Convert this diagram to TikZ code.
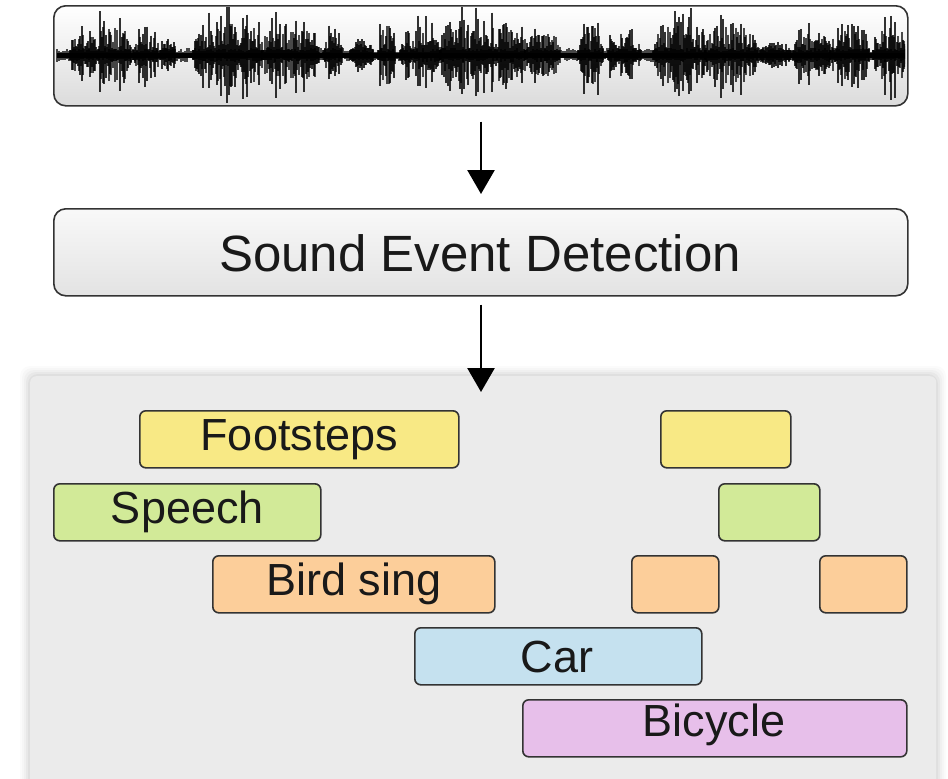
\documentclass[tikz,border=0pt]{standalone}
\usepackage{fontspec}
\setmainfont{Liberation Sans}
\usetikzlibrary{arrows.meta}
\definecolor{panelgray}{HTML}{EBEBEB}
\definecolor{boxgray}{HTML}{EFEFEF}
\definecolor{edgegray}{HTML}{333333}
\definecolor{cyellow}{HTML}{F8E985}
\definecolor{cgreen}{HTML}{D2EA98}
\definecolor{corange}{HTML}{FCCE9A}
\definecolor{cblue}{HTML}{C5E1EF}
\definecolor{cviolet}{HTML}{E7BFEA}
\tikzset{
  evbox/.style={draw=edgegray, line width=1.6pt, rounded corners=6pt, inner sep=0pt,
    font=\fontsize{45}{50}\selectfont, text=black!90},
  flowarrow/.style={line width=2.6pt, -{Triangle[length=24pt,width=27pt]}},
}
\begin{document}
\begin{tikzpicture}[x=1pt,y=-1pt]
\useasboundingbox (0,0) rectangle (948,779);
\fill[white] (0,0) rectangle (948,779);
% panel with soft shadow
\foreach \k/\o in {10/0.015,8/0.02,6/0.025,4/0.03,2/0.035}{
  \fill[black, opacity=\o, rounded corners=10pt] (30-\k,376-\k) rectangle (936+\k,790);
}
\node[fill=panelgray, rounded corners=6pt, minimum width=906pt, minimum height=420pt,
  anchor=north west, inner sep=0pt] (panel) at (30,376) {};
% waveform box
\node[draw=edgegray, line width=1.6pt, rounded corners=12pt, top color=white, bottom color=black!14,
  minimum width=854pt, minimum height=100pt, anchor=north west, inner sep=0pt] (wave) at (53,5) {};
\begin{scope}
  \clip[rounded corners=12pt] (55,7) rectangle (905,103);
  \pgfmathsetseed{11}
  \fill[black] (57,52.5) rectangle (905,57.5);
  % baseline noise
  \foreach \x in {57,59,...,905}{
    \pgfmathsetmacro{\a}{3+4*rnd}
    \pgfmathsetmacro{\b}{3+4*rnd}
    \draw[black, line width=1.2pt, opacity=0.7] (\x,55-\a) -- (\x,55+\b);
  }
  % bursts
  \foreach \s/\e/\m in {70/130/46, 133/158/32, 160/175/18, 193/262/50, 262/318/48, 323/342/28,
      350/372/14, 378/395/46, 400/440/36, 440/525/50, 525/560/32, 578/602/46, 608/640/30,
      653/705/50, 705/757/46, 760/790/10, 793/830/34, 830/868/36, 873/905/46}{
    \foreach \x in {\s,\the\numexpr\s+2\relax,...,\e}{
      \pgfmathsetmacro{\env}{sqrt(sqrt(abs(sin(180*(\x-\s)/(\e-\s+0.01)))))}
      \pgfmathsetmacro{\r}{rnd}
      \pgfmathsetmacro{\a}{5+\m*\env*(\r^1.5)*(0.7+0.3*rnd)}
      \pgfmathsetmacro{\b}{5+\m*\env*(\r^1.5)*(0.7+0.3*rnd)}
      \draw[black, line width=1.3pt, opacity=0.8] (\x,55-\a) -- (\x,55+\b);
      \pgfmathsetmacro{\c}{5+0.55*\m*\env*rnd}
      \draw[black, line width=1.8pt, opacity=0.7] (\x+1,55-\c) -- (\x+1,55+\c);
    }
  }
\end{scope}
% SED box
\node[draw=edgegray, line width=1.6pt, rounded corners=12pt, top color=white!60!boxgray, bottom color=boxgray!95!black,
  minimum width=854pt, minimum height=87pt, anchor=north west, inner sep=0pt] (sed) at (53,208) {};
\node[font=\fontsize{51}{56}\selectfont, text=black!90] (sedtext) at (480,253) {Sound Event Detection};
% arrows
\coordinate (a2end) at (481,392);
\draw[flowarrow, shorten <=15pt, shorten >=14pt] (wave.south -| 481,0) -- (sed.north -| 481,0);
\draw[flowarrow, shorten <=8pt] (sed.south -| 481,0) -- (a2end);
% event boxes
\node[evbox, fill=cyellow, minimum width=319pt, minimum height=57pt, anchor=north west] (foot1) at (139,410) {Footsteps};
\node[evbox, fill=cyellow, minimum width=130pt, minimum height=57pt, anchor=north west] (foot2) at (660,410) {};
\node[evbox, fill=cgreen, minimum width=267pt, minimum height=57pt, anchor=north west] (speech1) at (53,483) {Speech};
\node[evbox, fill=cgreen, minimum width=101pt, minimum height=57pt, anchor=north west] (speech2) at (718,483) {};
\node[evbox, fill=corange, minimum width=282pt, minimum height=57pt, anchor=north west] (bird1) at (212,555) {Bird sing};
\node[evbox, fill=corange, minimum width=87pt, minimum height=57pt, anchor=north west] (bird2) at (631,555) {};
\node[evbox, fill=corange, minimum width=87pt, minimum height=57pt, anchor=north west] (bird3) at (819,555) {};
\node[evbox, fill=cblue, minimum width=287pt, minimum height=57pt, anchor=north west] (car) at (414,627) {};
\node[font=\fontsize{45}{50}\selectfont, text=black!90] (cartext) at (557,657) {Car};
\node[evbox, fill=cviolet, minimum width=384pt, minimum height=57pt, anchor=north west] (bike) at (522,699) {};
\node[font=\fontsize{45}{50}\selectfont, text=black!90] (biketext) at (714,725) {Bicycle};
\end{tikzpicture}
\end{document}
